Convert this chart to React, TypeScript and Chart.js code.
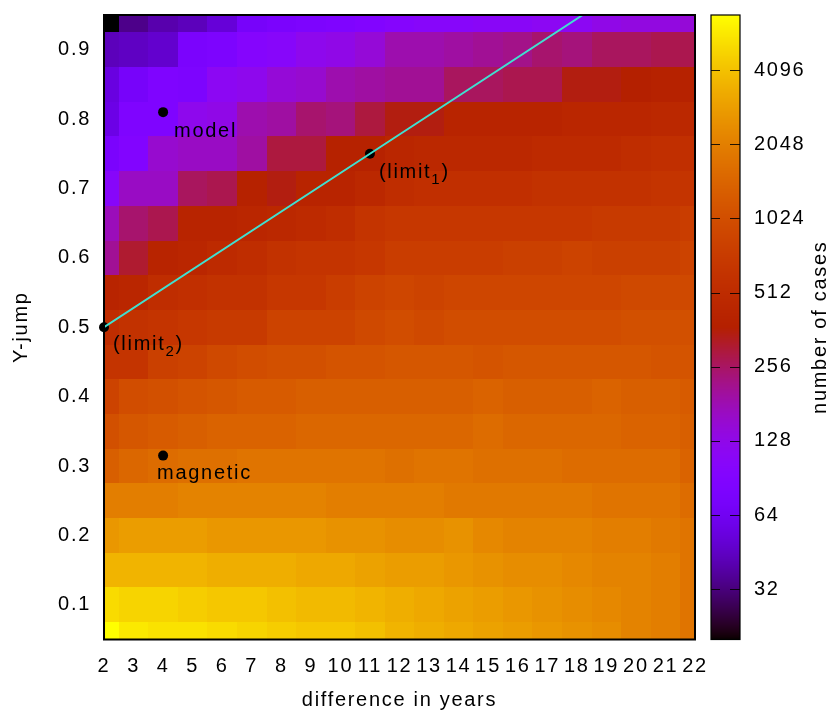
import React, { useEffect, useRef } from "react";
import { Chart, registerables } from "chart.js";

Chart.register(...registerables);

const FONT_FAMILY = "'Liberation Sans', Arial, Helvetica, sans-serif";
const LETTER_SPACING = "1.7px";

// grid coordinates (cell centres)
const xValues = [2, 3, 4, 5, 6, 7, 8, 9, 10, 11, 12, 13, 14, 15, 16, 17, 18, 19, 20, 21, 22];
const yValues = [0.95, 0.9, 0.85, 0.8, 0.75, 0.7, 0.65, 0.6, 0.55, 0.5, 0.45, 0.4, 0.35, 0.3, 0.25, 0.2, 0.15, 0.1, 0.05];

// number of cases per cell, one array per Y-jump row (x = 2 .. 22)
const row095 = [20, 34, 40, 43, 51, 72, 77, 81, 86, 91, 97, 103, 103, 109, 109, 115, 115, 129, 137, 137, 146];
const row090 = [43, 45, 48, 77, 81, 97, 103, 122, 129, 146, 184, 184, 195, 207, 219, 246, 232, 261, 261, 276, 276];
const row085 = [54, 72, 86, 81, 115, 122, 146, 154, 184, 195, 207, 207, 261, 261, 276, 276, 349, 349, 370, 392, 392];
const row080 = [57, 86, 86, 122, 129, 184, 195, 246, 232, 293, 349, 349, 416, 416, 416, 416, 441, 441, 441, 468, 468];
const row075 = [77, 91, 154, 164, 164, 195, 293, 293, 392, 392, 441, 468, 468, 468, 468, 496, 496, 496, 525, 557, 557];
const row070 = [103, 164, 164, 261, 276, 392, 349, 416, 416, 468, 525, 557, 557, 557, 557, 590, 590, 590, 590, 626, 626];
const row065 = [173, 246, 276, 416, 416, 441, 468, 496, 525, 626, 664, 664, 664, 664, 664, 664, 664, 703, 703, 703, 746];
const row060 = [207, 311, 416, 441, 496, 525, 590, 626, 626, 664, 746, 746, 746, 746, 791, 791, 838, 791, 791, 791, 838];
const row055 = [416, 441, 525, 557, 590, 590, 664, 664, 746, 838, 888, 838, 888, 888, 888, 888, 888, 888, 942, 942, 942];
const row050 = [525, 590, 626, 664, 703, 703, 838, 838, 838, 942, 998, 942, 998, 998, 998, 998, 998, 998, 1058, 1058, 1058];
const row045 = [626, 626, 791, 838, 942, 998, 1058, 1058, 1122, 1122, 1189, 1189, 1189, 1122, 1189, 1189, 1189, 1189, 1189, 1122, 1122];
const row040 = [838, 998, 1058, 1122, 1189, 1261, 1261, 1337, 1337, 1337, 1337, 1337, 1337, 1417, 1337, 1337, 1337, 1417, 1337, 1337, 1261];
const row035 = [1058, 1189, 1261, 1337, 1417, 1417, 1417, 1502, 1502, 1502, 1502, 1502, 1502, 1592, 1502, 1502, 1502, 1502, 1417, 1417, 1337];
const row030 = [1337, 1502, 1592, 1688, 1688, 1790, 1790, 1790, 1790, 1790, 1688, 1790, 1790, 1688, 1688, 1688, 1592, 1592, 1592, 1592, 1417];
const row025 = [2011, 2011, 2011, 2132, 2132, 2132, 2132, 2132, 2011, 2011, 2011, 2011, 1897, 1897, 1897, 1897, 1897, 1790, 1790, 1790, 1592];
const row020 = [2693, 2855, 2855, 2855, 2693, 2693, 2693, 2693, 2540, 2540, 2396, 2396, 2540, 2260, 2132, 2132, 2132, 2011, 2011, 1897, 1790];
const row015 = [3605, 3605, 3605, 3605, 3401, 3401, 3401, 3208, 3208, 3026, 2855, 2855, 2693, 2540, 2396, 2396, 2260, 2132, 2132, 2011, 1790];
const row010 = [5117, 4827, 4827, 4553, 4295, 4295, 4052, 3822, 3822, 3605, 3401, 3208, 3026, 2855, 2693, 2540, 2396, 2260, 2132, 2011, 1790];
const row005 = [6850, 5751, 5425, 5425, 5117, 4827, 4553, 4295, 4295, 4052, 3605, 3401, 3208, 3026, 2855, 2693, 2540, 2396, 2132, 2011, 1790];

const countRows = [
  row095, row090, row085, row080, row075, row070, row065, row060, row055, row050,
  row045, row040, row035, row030, row025, row020, row015, row010, row005,
];

// colour box range and ticks
const cbMin = 20;
const cbMax = 6850;
const cbTicks = [32, 64, 128, 256, 512, 1024, 2048, 4096];
const xTicks = [2, 3, 4, 5, 6, 7, 8, 9, 10, 11, 12, 13, 14, 15, 16, 17, 18, 19, 20, 21, 22];
const yTicks = [0.1, 0.2, 0.3, 0.4, 0.5, 0.6, 0.7, 0.8, 0.9];

// labelled points
const markerX = [4, 4, 11, 2];
const markerY = [0.81, 0.315, 0.75, 0.5];
const markerText = ["model", "magnetic", "(limit", "(limit"];
const markerSub = ["", "", "1", "2"];
const markerTail = ["", "", ")", ")"];

// limit line
const lineX = [2, 11, 18.2];
const lineY = [0.5, 0.75, 0.95];

function paletteColor(t: number): string {
  const c = Math.min(1, Math.max(0, t));
  const r = Math.sqrt(c);
  const g = c * c * c;
  const b = Math.max(0, Math.sin(2 * Math.PI * c));
  return `rgb(${Math.round(r * 255)},${Math.round(g * 255)},${Math.round(b * 255)})`;
}

function colorFor(cb: any, v: number): string {
  const t = (cb.bottom - cb.getPixelForValue(v)) / (cb.bottom - cb.top);
  return paletteColor(t);
}

const font20 = { family: FONT_FAMILY, size: 20 };

function noPad(s: any) {
  s.paddingTop = 0;
  s.paddingBottom = 0;
  s.paddingLeft = 0;
  s.paddingRight = 0;
}

const heatPlugin = {
  id: "heatmapPlugin",
  beforeDraw(chart: any) {
    chart.ctx.letterSpacing = LETTER_SPACING;
  },
  beforeDatasetsDraw(chart: any) {
    const { ctx, chartArea: a, scales } = chart;
    const xs = scales.x;
    const ys = scales.y;
    const cb = scales.cb;
    const hx = Math.abs(xValues[1] - xValues[0]) / 2;
    const hy = Math.abs(yValues[1] - yValues[0]) / 2;
    ctx.save();
    ctx.beginPath();
    ctx.rect(a.left, a.top, a.right - a.left, a.bottom - a.top);
    ctx.clip();
    countRows.forEach((row, j) => {
      const yv = yValues[j];
      const top = Math.round(ys.getPixelForValue(yv + hy));
      const bot = Math.round(ys.getPixelForValue(yv - hy));
      row.forEach((v, i) => {
        const xv = xValues[i];
        const l = Math.round(xs.getPixelForValue(xv - hx));
        const r = Math.round(xs.getPixelForValue(xv + hx));
        ctx.fillStyle = colorFor(cb, v);
        ctx.fillRect(l, top, r - l, bot - top);
      });
    });
    ctx.restore();
  },
  afterDatasetsDraw(chart: any) {
    const { ctx, chartArea: a, scales } = chart;
    const xs = scales.x;
    const ys = scales.y;
    ctx.save();
    ctx.strokeStyle = "#000";
    ctx.lineWidth = 2;
    ctx.strokeRect(a.left, a.top, a.right - a.left, a.bottom - a.top);

    const offsets = [
      [11, 25],
      [-6, 23.5],
      [9, 24],
      [9, 23],
    ];
    ctx.fillStyle = "#000";
    ctx.textAlign = "left";
    ctx.textBaseline = "alphabetic";
    ctx.letterSpacing = LETTER_SPACING;
    markerText.forEach((txt, i) => {
      const px = xs.getPixelForValue(markerX[i]);
      const py = ys.getPixelForValue(markerY[i]);
      let x = px + offsets[i][0];
      const y = py + offsets[i][1];
      ctx.font = `20px ${FONT_FAMILY}`;
      ctx.fillText(txt, x, y);
      x += ctx.measureText(txt).width;
      if (markerSub[i]) {
        ctx.font = `15px ${FONT_FAMILY}`;
        ctx.fillText(markerSub[i], x, y + 6);
        x += ctx.measureText(markerSub[i]).width;
      }
      if (markerTail[i]) {
        ctx.font = `20px ${FONT_FAMILY}`;
        ctx.fillText(markerTail[i], x, y);
      }
    });
    ctx.restore();
  },
  afterDraw(chart: any) {
    const { ctx, chartArea: a, scales } = chart;
    const cb = scales.cb;
    const cbLeft = a.right + 16;
    const cbW = 29;
    ctx.save();
    for (let y = Math.floor(cb.top); y < cb.bottom; y++) {
      const yc = Math.min(cb.bottom, Math.max(cb.top, y + 0.5));
      const v = cb.getValueForPixel(yc);
      ctx.fillStyle = colorFor(cb, v);
      const y0 = Math.max(y, cb.top);
      const y1 = Math.min(y + 1, cb.bottom);
      ctx.fillRect(cbLeft, y0, cbW, y1 - y0);
    }
    ctx.strokeStyle = "rgba(0,0,0,0.85)";
    ctx.lineWidth = 1;
    cbTicks.forEach((v) => {
      const y = Math.round(cb.getPixelForValue(v)) + 0.5;
      ctx.beginPath();
      ctx.moveTo(cbLeft, y);
      ctx.lineTo(cbLeft + 9, y);
      ctx.moveTo(cbLeft + 19, y);
      ctx.lineTo(cbLeft + cbW, y);
      ctx.stroke();
    });
    ctx.strokeStyle = "#000";
    ctx.lineWidth = 1.2;
    ctx.strokeRect(cbLeft, cb.top, cbW, cb.bottom - cb.top);

    ctx.fillStyle = "#000";
    ctx.font = `20px ${FONT_FAMILY}`;
    ctx.letterSpacing = LETTER_SPACING;
    ctx.textAlign = "center";
    ctx.textBaseline = "middle";
    ctx.translate(820, (a.top + a.bottom) / 2);
    ctx.rotate(-Math.PI / 2);
    ctx.fillText("number of cases", 0, 0);
    ctx.restore();
  },
};

export default function App() {
  const canvasRef = useRef<HTMLCanvasElement | null>(null);

  useEffect(() => {
    const canvas = canvasRef.current;
    if (!canvas) return;
    Chart.defaults.font.family = FONT_FAMILY;
    Chart.defaults.font.size = 20;
    Chart.defaults.color = "#000";

    const chart = new Chart(canvas, {
      type: "scatter",
      data: {
        datasets: [
          {
            type: "line",
            label: "limit line",
            data: lineX.map((x, i) => ({ x, y: lineY[i] })),
            borderColor: "rgb(64,224,208)",
            borderWidth: 2,
            pointRadius: 0,
            fill: false,
            tension: 0,
          } as any,
          {
            type: "scatter",
            label: "points",
            data: markerX.map((x, i) => ({ x, y: markerY[i] })),
            pointRadius: 5,
            pointHoverRadius: 5,
            backgroundColor: "#000",
            borderColor: "#000",
            borderWidth: 0,
            clip: false,
          } as any,
        ],
      },
      options: {
        animation: false,
        responsive: false,
        maintainAspectRatio: false,
        events: [],
        layout: { padding: { top: 15, left: 0, right: 0, bottom: 0 } },
        plugins: {
          legend: { display: false },
          tooltip: { enabled: false },
          title: { display: false },
        },
        scales: {
          x: {
            type: "linear",
            position: "bottom",
            min: 2,
            max: 22,
            grid: { display: false, drawTicks: false },
            border: { display: false },
            afterBuildTicks: (s: any) => {
              s.ticks = xTicks.map((v) => ({ value: v }));
            },
            afterFit: (s: any) => {
              s.height = 71.5;
              noPad(s);
            },
            ticks: {
              autoSkip: false,
              maxRotation: 0,
              minRotation: 0,
              padding: 15,
              font: font20,
              color: "#000",
              callback: (v: any) => String(v),
            },
            title: {
              display: true,
              text: "difference in years",
              font: font20,
              color: "#000",
              padding: { top: 0, bottom: -1.5 },
            },
          },
          y: {
            type: "linear",
            position: "left",
            min: 0.05,
            max: 0.95,
            grid: { display: false, drawTicks: false },
            border: { display: false },
            afterBuildTicks: (s: any) => {
              s.ticks = yTicks.map((v) => ({ value: v }));
            },
            afterFit: (s: any) => {
              s.width = 104;
              noPad(s);
            },
            ticks: {
              autoSkip: false,
              padding: 13,
              font: font20,
              color: "#000",
              callback: (v: any) => Number(v).toFixed(1),
            },
            title: {
              display: true,
              text: "Y-jump",
              font: font20,
              color: "#000",
              padding: { top: 9, bottom: 0 },
            },
          },
          cb: {
            type: "logarithmic",
            axis: "y",
            position: "right",
            min: cbMin,
            max: cbMax,
            grid: { display: false, drawTicks: false },
            border: { display: false },
            afterBuildTicks: (s: any) => {
              s.ticks = cbTicks.map((v) => ({ value: v }));
            },
            afterFit: (s: any) => {
              s.width = 134;
              noPad(s);
            },
            ticks: {
              autoSkip: false,
              padding: 59,
              font: font20,
              color: "#000",
              callback: (v: any) => String(v),
            },
          },
        },
      } as any,
      plugins: [heatPlugin],
    });

    return () => {
      chart.destroy();
    };
  }, []);

  return (
    <div style={{ position: "fixed", left: 0, top: 0, width: 829, height: 711, background: "#fff" }}>
      <canvas ref={canvasRef} width={829} height={711} style={{ display: "block", width: 829, height: 711 }} />
    </div>
  );
}
